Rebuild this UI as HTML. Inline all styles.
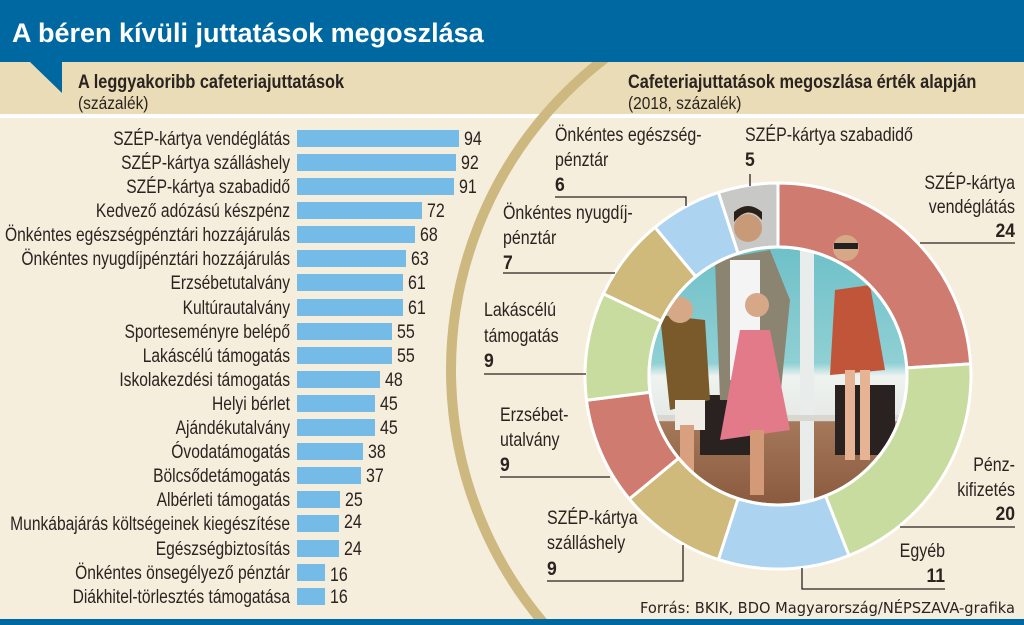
<!DOCTYPE html>
<html><head><meta charset="utf-8"><style>
html,body{margin:0;padding:0;background:#f5eedc;overflow:hidden;width:1024px;height:625px}
svg{display:block}
text{font-family:"Liberation Sans Narrow","Liberation Sans",sans-serif;fill:#2a2320}
</style></head><body>
<svg width="1024" height="625" viewBox="0 0 1024 625" xmlns="http://www.w3.org/2000/svg">
<defs>
<clipPath id="ph"><circle cx="778" cy="376" r="129"/></clipPath>
<linearGradient id="sky" x1="0" y1="0" x2="0" y2="1">
<stop offset="0" stop-color="#6fc0c8"/><stop offset="0.45" stop-color="#8fd0d4"/>
<stop offset="0.5" stop-color="#eef3f0"/><stop offset="0.66" stop-color="#e6eae6"/>
<stop offset="0.68" stop-color="#a5785a"/><stop offset="1" stop-color="#8a5a3e"/>
</linearGradient>
</defs>
<rect width="1024" height="625" fill="#f5eedc"/>
<rect x="0" y="62" width="1024" height="52" fill="#e9dcb6"/>
<rect x="0" y="114" width="1024" height="4" fill="#fff"/>
<circle cx="843" cy="370" r="392" fill="none" stroke="#cdb87f" stroke-width="10"/>
<rect x="0" y="0" width="1024" height="62" fill="#0068a1"/>
<polygon points="30,62 62,62 62,93" fill="#0068a1"/>
<text x="12" y="42" style="font-family:'Liberation Sans',sans-serif;font-weight:bold;fill:#fff" font-size="27">A béren kívüli juttatások megoszlása</text>
<rect x="0" y="619" width="1024" height="6" fill="#0068a1"/>

<g transform="translate(78 88) scale(.86 1)"><text font-weight="bold" font-size="19">A leggyakoribb cafeteriajuttatások</text></g>
<g transform="translate(78 109) scale(.86 1)"><text font-size="18">(százalék)</text></g>
<g transform="translate(628 88) scale(.86 1)"><text font-weight="bold" font-size="19">Cafeteriajuttatások megoszlása érték alapján</text></g>
<g transform="translate(628 109) scale(.86 1)"><text font-size="18">(2018, százalék)</text></g>

<g fill="#74bbe7">
<rect x="297" y="130" width="162" height="17"/>
<rect x="297" y="154" width="159" height="17"/>
<rect x="297" y="178" width="157" height="17"/>
<rect x="297" y="202" width="125" height="17"/>
<rect x="297" y="226" width="118" height="17"/>
<rect x="297" y="250" width="109" height="17"/>
<rect x="297" y="274" width="106" height="17"/>
<rect x="297" y="299" width="106" height="17"/>
<rect x="297" y="323" width="95" height="17"/>
<rect x="297" y="347" width="95" height="17"/>
<rect x="297" y="371" width="83" height="17"/>
<rect x="297" y="395" width="78" height="17"/>
<rect x="297" y="419" width="78" height="17"/>
<rect x="297" y="443" width="66" height="17"/>
<rect x="297" y="467" width="64" height="17"/>
<rect x="297" y="491" width="43" height="17"/>
<rect x="297" y="515" width="42" height="17"/>
<rect x="297" y="540" width="42" height="17"/>
<rect x="297" y="564" width="28" height="17"/>
<rect x="297" y="588" width="28" height="17"/>
</g>
<g font-size="19.5" text-anchor="end">
<g transform="translate(290 145) scale(.8 1)"><text>SZÉP-kártya vendéglátás</text></g>
<g transform="translate(290 169) scale(.8 1)"><text>SZÉP-kártya szálláshely</text></g>
<g transform="translate(290 193) scale(.8 1)"><text>SZÉP-kártya szabadidő</text></g>
<g transform="translate(290 217) scale(.8 1)"><text>Kedvező adózású készpénz</text></g>
<g transform="translate(290 241) scale(.8 1)"><text>Önkéntes egészségpénztári hozzájárulás</text></g>
<g transform="translate(290 265) scale(.8 1)"><text>Önkéntes nyugdíjpénztári hozzájárulás</text></g>
<g transform="translate(290 289) scale(.8 1)"><text>Erzsébetutalvány</text></g>
<g transform="translate(290 314) scale(.8 1)"><text>Kultúrautalvány</text></g>
<g transform="translate(290 338) scale(.8 1)"><text>Sporteseményre belépő</text></g>
<g transform="translate(290 362) scale(.8 1)"><text>Lakáscélú támogatás</text></g>
<g transform="translate(290 386) scale(.8 1)"><text>Iskolakezdési támogatás</text></g>
<g transform="translate(290 410) scale(.8 1)"><text>Helyi bérlet</text></g>
<g transform="translate(290 434) scale(.8 1)"><text>Ajándékutalvány</text></g>
<g transform="translate(290 458) scale(.8 1)"><text>Óvodatámogatás</text></g>
<g transform="translate(290 482) scale(.8 1)"><text>Bölcsődetámogatás</text></g>
<g transform="translate(290 506) scale(.8 1)"><text>Albérleti támogatás</text></g>
<g transform="translate(290 530) scale(.8 1)"><text>Munkábajárás költségeinek kiegészítése</text></g>
<g transform="translate(290 555) scale(.8 1)"><text>Egészségbiztosítás</text></g>
<g transform="translate(290 579) scale(.8 1)"><text>Önkéntes önsegélyező pénztár</text></g>
<g transform="translate(290 603) scale(.8 1)"><text>Diákhitel-törlesztés támogatása</text></g>
</g>
<g font-size="19.5">
<g transform="translate(464 145) scale(.82 1)"><text>94</text></g>
<g transform="translate(461 169) scale(.82 1)"><text>92</text></g>
<g transform="translate(459 193) scale(.82 1)"><text>91</text></g>
<g transform="translate(427 217) scale(.82 1)"><text>72</text></g>
<g transform="translate(420 241) scale(.82 1)"><text>68</text></g>
<g transform="translate(411 265) scale(.82 1)"><text>63</text></g>
<g transform="translate(408 289) scale(.82 1)"><text>61</text></g>
<g transform="translate(408 314) scale(.82 1)"><text>61</text></g>
<g transform="translate(397 338) scale(.82 1)"><text>55</text></g>
<g transform="translate(397 362) scale(.82 1)"><text>55</text></g>
<g transform="translate(385 386) scale(.82 1)"><text>48</text></g>
<g transform="translate(380 410) scale(.82 1)"><text>45</text></g>
<g transform="translate(380 434) scale(.82 1)"><text>45</text></g>
<g transform="translate(368 458) scale(.82 1)"><text>38</text></g>
<g transform="translate(366 482) scale(.82 1)"><text>37</text></g>
<g transform="translate(345 506) scale(.82 1)"><text>25</text></g>
<g transform="translate(344 528) scale(.82 1)"><text>24</text></g>
<g transform="translate(344 555) scale(.82 1)"><text>24</text></g>
<g transform="translate(330 581) scale(.82 1)"><text>16</text></g>
<g transform="translate(330 603) scale(.82 1)"><text>16</text></g>
</g>

<circle cx="778" cy="376" r="129" fill="url(#sky)"/>
<g clip-path="url(#ph)">
<rect x="800" y="250" width="14" height="260" fill="#e8ecea"/>
<rect x="640" y="415" width="280" height="6" fill="#d8d8d0"/>
<rect x="835" y="385" width="60" height="70" fill="#2a2220"/>
<rect x="700" y="395" width="50" height="60" fill="#2a2220"/>
<path d="M715 260 L770 250 L790 300 L780 400 L720 400 Z" fill="#8a8470"/>
<rect x="730" y="260" width="30" height="120" fill="#f4f4f4"/>
<path d="M660 315 L705 320 L710 400 L670 410 Z" fill="#7a5a2a"/>
<rect x="675" y="400" width="30" height="30" fill="#f0ece6"/>
<rect x="680" y="425" width="14" height="50" fill="#d9a080"/>
<path d="M740 330 L770 330 L790 430 L720 440 Z" fill="#e27a8a"/>
<rect x="750" y="430" width="14" height="65" fill="#d49a78"/>
<path d="M835 290 L870 285 L885 370 L830 375 Z" fill="#c0553a"/>
<rect x="845" y="370" width="10" height="90" fill="#e6b494"/>
<rect x="860" y="370" width="10" height="90" fill="#e6b494"/>
</g>
<circle cx="680" cy="310" r="13" fill="#d6a888"/>
<circle cx="757" cy="305" r="12" fill="#d6a888"/>

<g stroke="#fff" stroke-width="3" stroke-linejoin="round">
<path d="M778 183 A193 193 0 0 1 970.6 363.9 L906.7 367.9 A129 129 0 0 0 778 247 Z" fill="#d07b6f"/>
<path d="M970.6 363.9 A193 193 0 0 1 849 555.5 L825.5 495.9 A129 129 0 0 0 906.7 367.9 Z" fill="#c9dc9f"/>
<path d="M849 555.5 A193 193 0 0 1 718.4 559.6 L738.1 498.7 A129 129 0 0 0 825.5 495.9 Z" fill="#acd3f0"/>
<path d="M718.4 559.6 A193 193 0 0 1 629.3 499 L678.6 458.2 A129 129 0 0 0 738.1 498.7 Z" fill="#cfba7c"/>
<path d="M629.3 499 A193 193 0 0 1 586.5 400.2 L650 392.2 A129 129 0 0 0 678.6 458.2 Z" fill="#d07b6f"/>
<path d="M586.5 400.2 A193 193 0 0 1 603.4 293.8 L661.3 321.1 A129 129 0 0 0 650 392.2 Z" fill="#c9dc9f"/>
<path d="M603.4 293.8 A193 193 0 0 1 655 227.3 L695.8 276.6 A129 129 0 0 0 661.3 321.1 Z" fill="#cfba7c"/>
<path d="M655 227.3 A193 193 0 0 1 718.4 192.4 L738.1 253.3 A129 129 0 0 0 695.8 276.6 Z" fill="#acd3f0"/>
<path d="M718.4 192.4 A193 193 0 0 1 778 183 L778 247 A129 129 0 0 0 738.1 253.3 Z" fill="#c8c8c6"/>
</g>
<circle cx="778" cy="376" r="129" fill="none" stroke="#fff" stroke-width="3"/>
<circle cx="748" cy="228" r="14" fill="#c99a78"/>
<path d="M734 222 Q748 204 762 220 L762 212 Q748 200 734 212 Z" fill="#2a2018"/>
<circle cx="846" cy="248" r="13" fill="#d6a888"/>
<rect x="834" y="243" width="24" height="6" fill="#222"/>

<g stroke="#2a2320" stroke-width="1.3" fill="none">
<polyline points="555,197 686,197 686,206"/>
<line x1="750" y1="174" x2="750" y2="186"/>
<line x1="920" y1="243" x2="1015" y2="243"/>
<line x1="503" y1="273" x2="615" y2="273"/>
<line x1="484" y1="374" x2="586" y2="374"/>
<line x1="500" y1="477" x2="610" y2="477"/>
<polyline points="547,581 683,581 683,545"/>
<line x1="900" y1="527" x2="1015" y2="527"/>
<polyline points="802,568 802,589 945,589"/>
</g>

<g font-size="19.5">
<g transform="translate(555 141) scale(.82 1)"><text>Önkéntes egészség-</text></g>
<g transform="translate(555 166) scale(.82 1)"><text>pénztár</text></g>
<g transform="translate(555 191) scale(.9 1)"><text font-weight="bold">6</text></g>
<g transform="translate(745 141) scale(.82 1)"><text>SZÉP-kártya szabadidő</text></g>
<g transform="translate(745 166) scale(.9 1)"><text font-weight="bold">5</text></g>
<g transform="translate(503 219) scale(.82 1)"><text>Önkéntes nyugdíj-</text></g>
<g transform="translate(503 244) scale(.82 1)"><text>pénztár</text></g>
<g transform="translate(503 269) scale(.9 1)"><text font-weight="bold">7</text></g>
<g transform="translate(484 316) scale(.82 1)"><text>Lakáscélú</text></g>
<g transform="translate(484 342) scale(.82 1)"><text>támogatás</text></g>
<g transform="translate(484 367) scale(.9 1)"><text font-weight="bold">9</text></g>
<g transform="translate(500 421) scale(.82 1)"><text>Erzsébet-</text></g>
<g transform="translate(500 446) scale(.82 1)"><text>utalvány</text></g>
<g transform="translate(500 471) scale(.9 1)"><text font-weight="bold">9</text></g>
<g transform="translate(547 524) scale(.82 1)"><text>SZÉP-kártya</text></g>
<g transform="translate(547 549) scale(.82 1)"><text>szálláshely</text></g>
<g transform="translate(547 575) scale(.9 1)"><text font-weight="bold">9</text></g>
</g>
<g font-size="19.5" text-anchor="end">
<g transform="translate(1015 189) scale(.82 1)"><text>SZÉP-kártya</text></g>
<g transform="translate(1015 213) scale(.82 1)"><text>vendéglátás</text></g>
<g transform="translate(1015 237) scale(.9 1)"><text font-weight="bold">24</text></g>
<g transform="translate(1015 471) scale(.82 1)"><text>Pénz-</text></g>
<g transform="translate(1015 496) scale(.82 1)"><text>kifizetés</text></g>
<g transform="translate(1015 520) scale(.9 1)"><text font-weight="bold">20</text></g>
<g transform="translate(945 557) scale(.82 1)"><text>Egyéb</text></g>
<g transform="translate(945 582) scale(.9 1)"><text font-weight="bold">11</text></g>
</g>
<text x="1015" y="613" text-anchor="end" font-size="15" style="font-family:'DejaVu Sans','Liberation Sans',sans-serif;fill:#2a2320" textLength="375" lengthAdjust="spacingAndGlyphs">Forrás: BKIK, BDO Magyarország/NÉPSZAVA-grafika</text>
</svg>
</body></html>
